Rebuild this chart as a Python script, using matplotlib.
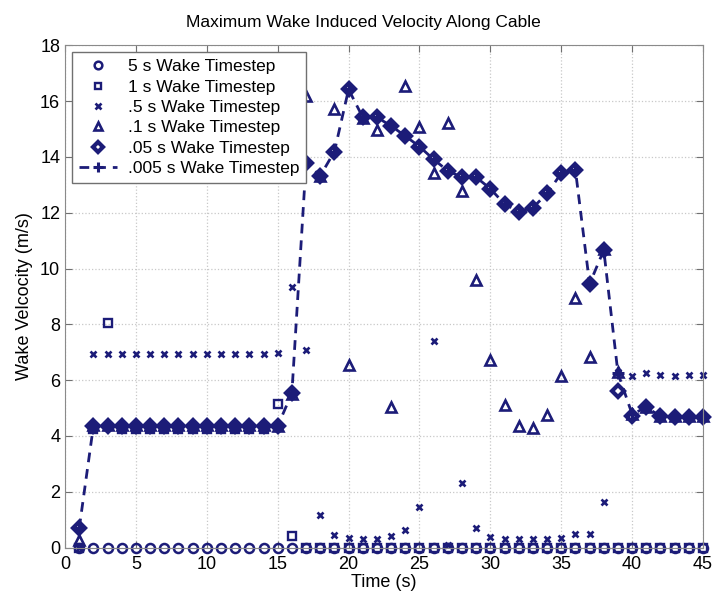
import numpy as np
import matplotlib
matplotlib.use('Agg')
import matplotlib.pyplot as plt

#----------------------------------------------------------------------#
# Maximum wake induced velocity along cable for several wake timesteps
#----------------------------------------------------------------------#
time = np.arange(1, 46)

# 5 s wake timestep
v_5s = [0.0]*45

# 1 s wake timestep
v_1s = [0.0, 4.25, 8.05, 4.25, 4.25, 4.25, 4.25, 4.25, 4.25, 4.25,
        4.25, 4.25, 4.25, 4.25, 5.15, 0.4, 0.0, 0.0, 0.0, 0.0,
        0.0, 0.0, 0.0, 0.0, 0.0, 0.0, 0.0, 0.0, 0.0, 0.0,
        0.0, 0.0, 0.0, 0.0, 0.0, 0.0, 0.0, 0.0, 0.0, 0.0,
        0.0, 0.0, 0.0, 0.0, 0.0]

# .5 s wake timestep
v_05s = [0.0, 6.95, 6.95, 6.95, 6.95, 6.95, 6.95, 6.95, 6.95, 6.95,
         6.95, 6.95, 6.95, 6.95, 6.98, 9.33, 7.08, 1.18, 0.46, 0.33,
         0.29, 0.31, 0.4, 0.64, 1.46, 7.4, 0.1, 2.32, 0.7, 0.38,
         0.29, 0.29, 0.29, 0.3, 0.35, 0.47, 0.49, 1.64, 6.3, 6.14,
         6.24, 6.17, 6.14, 6.2, 6.2]

# .1 s wake timestep
v_01s = [0.27, 4.4, 4.4, 4.4, 4.4, 4.4, 4.4, 4.4, 4.4, 4.4,
         4.4, 4.4, 4.4, 4.4, 4.35, 5.5, 16.18, 13.3, 15.7, 6.55,
         15.4, 14.96, 5.05, 16.54, 15.08, 13.41, 15.23, 12.78, 9.59, 6.72,
         5.11, 4.37, 4.27, 4.75, 6.15, 8.95, 6.84, 10.7, 6.3, 4.8,
         5.02, 4.7, 4.7, 4.7, 4.7]

# .05 s wake timestep
v_005s = [0.69, 4.35, 4.35, 4.35, 4.35, 4.35, 4.35, 4.35, 4.35, 4.35,
          4.35, 4.35, 4.35, 4.35, 4.35, 5.53, 13.79, 13.32, 14.19, 16.42,
          15.42, 15.42, 15.11, 14.75, 14.37, 13.91, 13.5, 13.27, 13.27, 12.86,
          12.31, 12.04, 12.18, 12.69, 13.41, 13.53, 9.45, 10.66, 5.62, 4.72,
          5.02, 4.71, 4.69, 4.69, 4.69]

# .005 s wake timestep
v_0005s = [0.69, 4.35, 4.35, 4.35, 4.35, 4.35, 4.35, 4.35, 4.35, 4.35,
           4.35, 4.35, 4.35, 4.35, 4.35, 5.53, 13.79, 13.32, 14.19, 16.42,
           15.42, 15.42, 15.11, 14.75, 14.37, 13.91, 13.5, 13.27, 13.27, 12.86,
           12.31, 12.04, 12.18, 12.69, 13.41, 13.53, 9.45, 10.66, 6.25, 4.78,
           5.02, 4.71, 4.69, 4.69, 4.69]

labels = ['5 s Wake Timestep', '1 s Wake Timestep', '.5 s Wake Timestep',
          '.1 s Wake Timestep', '.05 s Wake Timestep', '.005 s Wake Timestep']

#----------------------------------------------------------------------#
# Plotting
#----------------------------------------------------------------------#
plt.rcParams['font.family'] = ['Liberation Sans', 'DejaVu Sans']
col = '#1c1c78'

fig = plt.figure(figsize=(7.17, 6.0), dpi=100)
ax1 = fig.add_axes([0.0907, 0.0875, 0.8898, 0.837])

ax1.plot(time, v_5s, 'o', color=col, mfc='none', ms=6.5, mew=1.8, clip_on=False,
         zorder=2.2)
ax1.plot(time, v_1s, 's', color=col, mfc='none', ms=5.3, mew=1.7, clip_on=False,
         zorder=2.0)
ax1.plot(time, v_05s, 'x', color=col, ms=4.5, mew=1.9, clip_on=False, zorder=2.1)
ax1.plot(time, v_01s, '^', color=col, mfc='none', ms=7.5, mew=1.9, clip_on=False,
         zorder=2.3)
ax1.plot(time, v_005s, 'D', color=col, mfc='none', ms=6, mew=3.0, clip_on=False,
         zorder=2.4)
ax1.plot(time, v_0005s, '--+', color=col, lw=2.0, ms=8, mew=2.2,
         dashes=(3.5, 2.5), clip_on=False, zorder=2.5)

ax1.set_xlim(0, 45)
ax1.set_ylim(0, 18)
ax1.set_xticks(np.arange(0, 46, 5))
ax1.set_yticks(np.arange(0, 19, 2))
ax1.tick_params(direction='in', top=True, right=True, labelsize=13,
                color='#707070', length=5)
ax1.tick_params(axis='x', pad=6)
for s in ax1.spines.values():
    s.set_color('#8a8a8a')
ax1.grid(True, linestyle=':', color='#c8c8c8', lw=0.9)

ax1.set_title('Maximum Wake Induced Velocity Along Cable', fontsize=12.5,
              pad=13, x=0.467)
ax1.set_xlabel('Time (s)', fontsize=13, labelpad=1)
ax1.set_ylabel('Wake Velcocity (m/s)', fontsize=13, labelpad=5)

leg = ax1.legend(labels, loc='upper left', fontsize=12.5, labelspacing=0.3,
                 handlelength=2.2, handletextpad=0.6, borderpad=0.4,
                 borderaxespad=0.4, fancybox=False, framealpha=1,
                 markerscale=0.85)
leg.get_frame().set_edgecolor('#707070')
leg.get_frame().set_linewidth(1.0)

fig.savefig('out.png', dpi=100)
